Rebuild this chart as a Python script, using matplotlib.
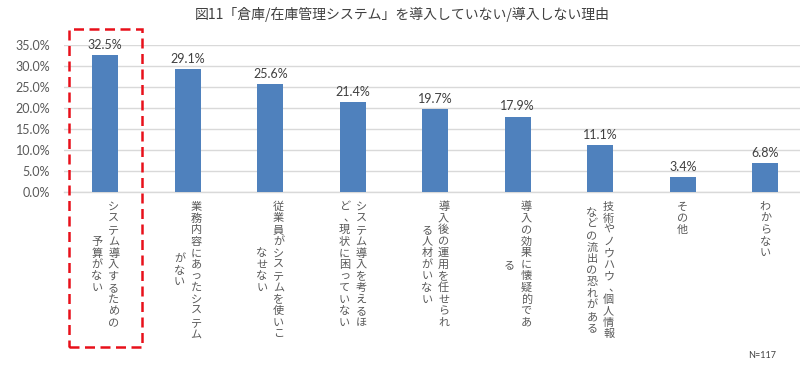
import matplotlib
matplotlib.use("Agg")
import matplotlib.pyplot as plt
from matplotlib.transforms import blended_transform_factory, ScaledTranslation
from matplotlib.patches import Rectangle

plt.rcParams['font.family'] = ['Noto Sans CJK JP', 'DejaVu Sans']

title = "図11「倉庫/在庫管理システム」を導入していない/導入しない理由"
categories = [
    "システム導入するための\n予算がない",
    "業務内容にあったシステム\nがない",
    "従業員がシステムを使いこ\nなせない",
    "システム導入を考えるほ\nど、現状に困っていない",
    "導入後の運用を任せられ\nる人材がいない",
    "導入の効果に懐疑的であ\nる",
    "技術やノウハウ、個人情報\nなどの流出の恐れがある",
    "その他",
    "わからない",
]
values = [32.5, 29.1, 25.6, 21.4, 19.7, 17.9, 11.1, 3.4, 6.8]
yticks = [0, 5, 10, 15, 20, 25, 30, 35]
note = "N=117"

W, H, DPI = 800, 369, 100
fig = plt.figure(figsize=(W / DPI, H / DPI), dpi=DPI)
ax_left, ax_right = 64, 800
ax_top, ax_bot = 44.7, 191.7
ax = fig.add_axes([ax_left / W, 1 - ax_bot / H, (ax_right - ax_left) / W, (ax_bot - ax_top) / H])

pitch_x = 82.5
x = list(range(len(values)))
ax.bar(x, values, width=0.31, color="#4F81BD", zorder=3)
ax.set_xlim(-0.5, -0.5 + (ax_right - ax_left) / pitch_x)
ax.set_ylim(0, 35)
ax.set_yticks(yticks)
ax.set_yticklabels([f"{v:.1f}%" for v in yticks], fontsize=9, color="#595959", family=["Lato", "DejaVu Sans"])
ax.tick_params(axis="y", length=0, pad=10)
ax.set_xticks([])
ax.grid(axis="y", color="#d9d9d9", linewidth=1, zorder=0)
for s in ["left", "right", "top"]:
    ax.spines[s].set_visible(False)
ax.spines["bottom"].set_color("#d9d9d9")
ax.spines["bottom"].set_linewidth(1)

for xi, v in zip(x, values):
    ax.annotate(f"{v:.1f}%", (xi, v), xytext=(0, 3), textcoords="offset points",
                ha="center", va="bottom", fontsize=9, color="#404040",
                family=["Lato", "DejaVu Sans"])

fig.text(402 / W, 1 - 14 / H, title, ha="center", va="center", fontsize=10, color="#404040")

# vertical Japanese category labels
blend = blended_transform_factory(ax.transData, fig.transFigure)
char_pitch = 11.6
top_px = 201
col_sp = 16.7
for xi, lab in zip(x, categories):
    cols = lab.split("\n")
    n = len(cols)
    maxlen = max(len(c) for c in cols)
    center_y = top_px + maxlen * char_pitch / 2
    for j, col in enumerate(cols):
        dx = ((n - 1) / 2 - j) * col_sp
        start = center_y - len(col) * char_pitch / 2
        for i, ch in enumerate(col):
            cy = start + (i + 0.5) * char_pitch
            ddx = 5 if ch in "、。" else 0
            tr = blend + ScaledTranslation((dx + ddx) / DPI, 0, fig.dpi_scale_trans)
            fig.text(xi, 1 - cy / H, ch, transform=tr, ha="center", va="center",
                     fontsize=8, color="#595959")

# red dashed highlight box around the first category
box_half = 36.5 / pitch_x
rect = Rectangle((0 - box_half, 1 - 347 / H), 2 * box_half, (347 - 29) / H,
                 transform=blend, fill=False, edgecolor="#e8101a", linewidth=1.8,
                 linestyle=(0, (4, 2.2)), clip_on=False, zorder=5)
fig.add_artist(rect)

fig.text(762 / W, 1 - 355 / H, note, ha="center", va="center", fontsize=6.5, color="#404040",
         family=["Lato", "DejaVu Sans"])

fig.savefig("out.png", dpi=DPI)
